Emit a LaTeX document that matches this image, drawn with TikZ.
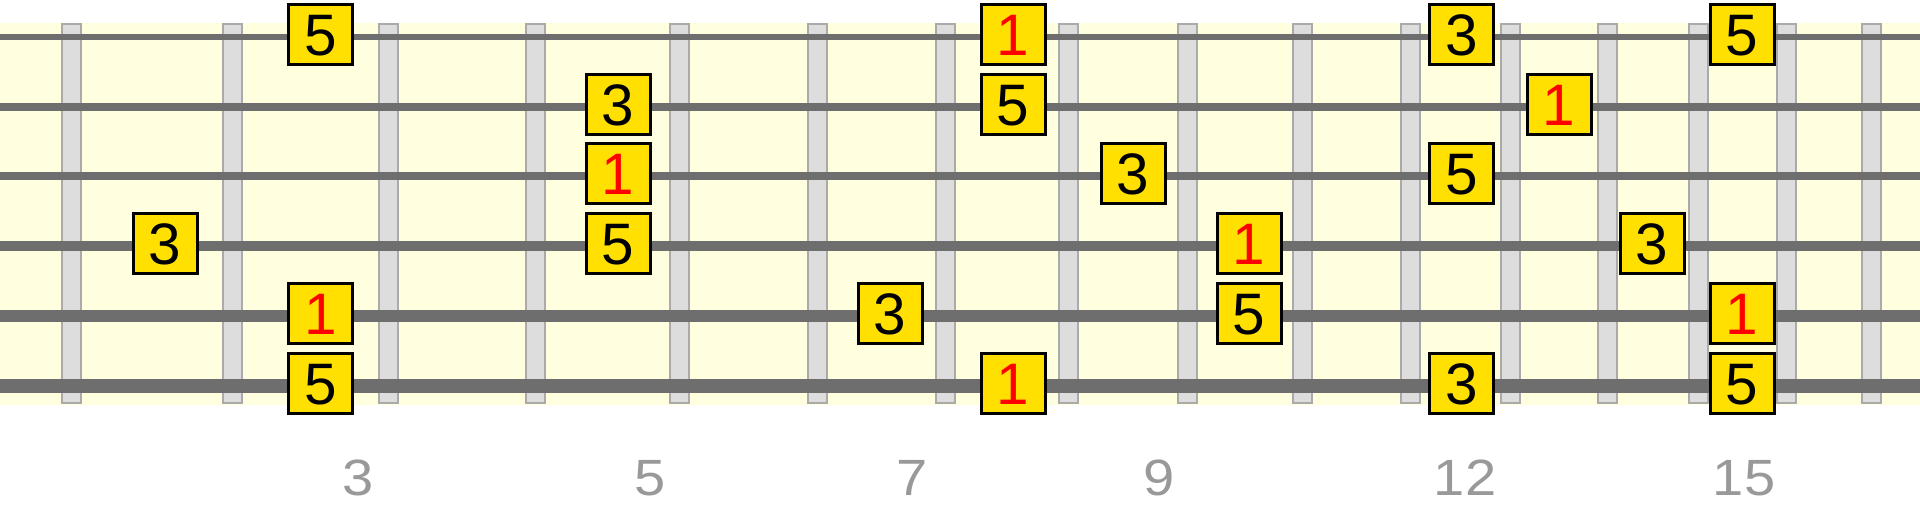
\documentclass[tikz,border=0pt]{standalone}
\usepackage{fontspec}
\setmainfont{Liberation Sans}
\definecolor{bgyellow}{HTML}{FFFFE0}
\definecolor{fretfill}{HTML}{DDDDDD}
\definecolor{fretline}{HTML}{AAAAAA}
\definecolor{stringgray}{HTML}{6E6E6E}
\definecolor{notefill}{HTML}{FFE000}
\definecolor{labelgray}{HTML}{999999}
\definecolor{rootred}{HTML}{FF0000}
\newcommand{\fretlabel}[1]{\scalebox{1.1}[1]{#1}}
\begin{document}
\begin{tikzpicture}[x=1pt,y=-1pt,
  fretbar/.style={fill=fretfill,draw=fretline,line width=2pt},
  strg/.style={draw=stringgray},
  note/.style={draw=black,line width=3pt,fill=notefill,minimum width=64pt,minimum height=60pt,inner sep=0pt,text height=42pt,text depth=0pt,font=\fontsize{58.5}{58.5}\selectfont},
  root/.style={note,text=rootred},
  fretnum/.style={text=labelgray,anchor=base,inner sep=0pt,font=\fontsize{51}{51}\selectfont}]
\useasboundingbox (0,0) rectangle (1920,510);
\fill[bgyellow] (0,23) rectangle (1920,405);
\foreach \x in {71,232,388,535.5,679.5,817,945,1068,1187,1302,1410,1510,1607,1698,1786,1871}
  \draw[fretbar] (\x-9.5,24) rectangle (\x+9.5,403);
\foreach \y/\w in {37/6.3,107/7.3,176/8.4,246/10,316/12,386/14}
  \draw[strg,line width=\w pt] (0,\y) -- (1920,\y);
% string 1
\node[note] (n1a) at (320.5,35) {5};
\node[root] (n1b) at (1013,35) {1};
\node[note] (n1c) at (1461.5,35) {3};
\node[note] (n1d) at (1742,35) {5};
% string 2
\node[note] (n2a) at (618,105) {3};
\node[note] (n2b) at (1013,105) {5};
\node[root] (n2c) at (1559,105) {1};
% string 3
\node[root] (n3a) at (618,174) {1};
\node[note] (n3b) at (1133,174) {3};
\node[note] (n3c) at (1461.5,174) {5};
% string 4
\node[note] (n4a) at (165,244) {3};
\node[note] (n4b) at (618,244) {5};
\node[root] (n4c) at (1249,244) {1};
\node[note] (n4d) at (1652,244) {3};
% string 5
\node[root] (n5a) at (320.5,314) {1};
\node[note] (n5b) at (890,314) {3};
\node[note] (n5c) at (1249,314) {5};
\node[root] (n5d) at (1742,314) {1};
% string 6
\node[note] (n6a) at (320.5,384) {5};
\node[root] (n6b) at (1013,384) {1};
\node[note] (n6c) at (1461.5,384) {3};
\node[note] (n6d) at (1742,384) {5};
% fret numbers
\node[fretnum] (f3) at (358,495) {\fretlabel{3}};
\node[fretnum] (f5) at (650,495) {\fretlabel{5}};
\node[fretnum] (f7) at (912,495) {\fretlabel{7}};
\node[fretnum] (f9) at (1159,495) {\fretlabel{9}};
\node[fretnum] (f12) at (1465,495) {\fretlabel{12}};
\node[fretnum] (f15) at (1744,495) {\fretlabel{15}};
\end{tikzpicture}
\end{document}
